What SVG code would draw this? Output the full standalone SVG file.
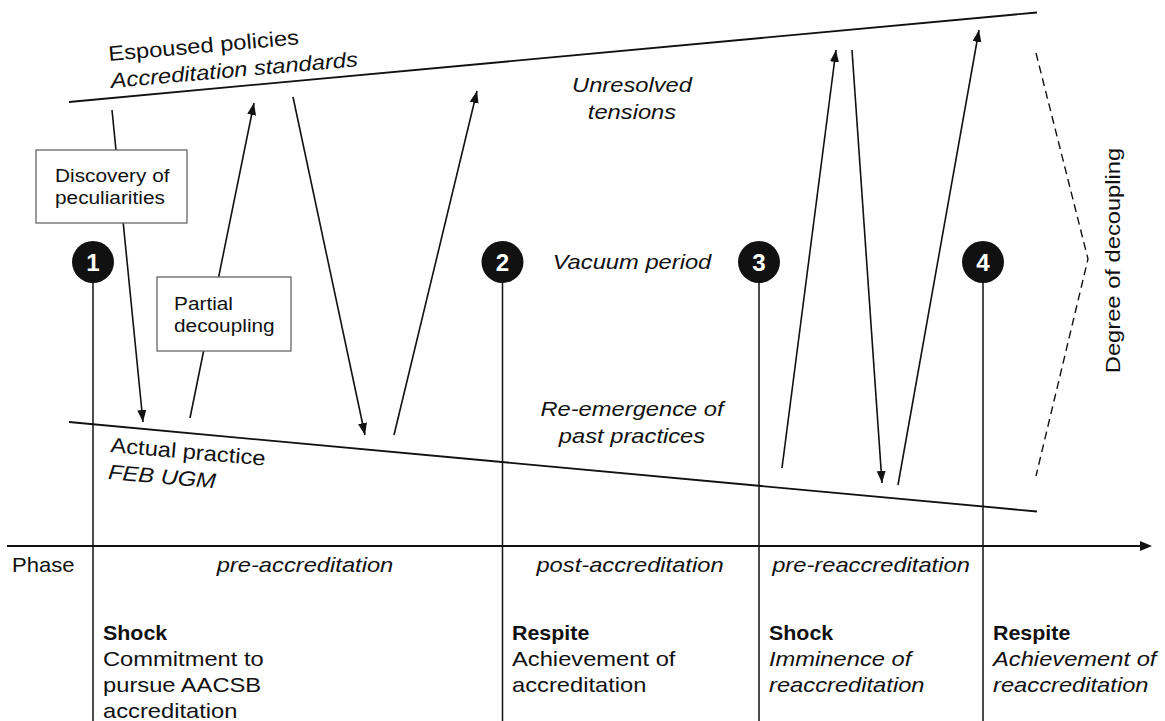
<svg xmlns="http://www.w3.org/2000/svg" width="1165" height="721" viewBox="0 0 1165 721">
<style>
.t{font-family:"Liberation Sans",Arial,sans-serif;font-size:21px;fill:#111}
.bx{font-size:18.5px}
.i{font-style:italic}
.b{font-weight:bold}
.num{font-family:"Liberation Sans",Arial,sans-serif;font-size:23px;font-weight:bold;fill:#fff;text-anchor:middle}
.ln{stroke:#111;stroke-width:1.8;fill:none}
.ar{stroke:#111;stroke-width:1.6;fill:none;marker-end:url(#ah)}
.vl{stroke:#111;stroke-width:1.5;fill:none}
.box{fill:#fff;stroke:#666;stroke-width:1.3}
</style>
<defs>
<marker id="ah" markerUnits="userSpaceOnUse" markerWidth="13" markerHeight="10" refX="12" refY="4.5" orient="auto">
<path d="M0,0 L12,4.5 L0,9 z" fill="#111"/>
</marker>
</defs>
<rect width="1165" height="721" fill="#fff"/>

<g id="connectors">
<line class="ln" x1="69" y1="102" x2="1037" y2="12.5"/>
<line class="ln" x1="69" y1="422" x2="1037" y2="511.5"/>
<line class="ln" x1="7" y1="546" x2="1141" y2="546" stroke-width="2"/>
<path d="M1140,541 L1152,546 L1140,551 z" fill="#111"/>
<line class="vl" x1="93" y1="262" x2="93" y2="721"/>
<line class="vl" x1="502.5" y1="262" x2="502.5" y2="721"/>
<line class="vl" x1="759" y1="262" x2="759" y2="721"/>
<line class="vl" x1="983" y1="262" x2="983" y2="721"/>
<line class="ar" x1="112" y1="110" x2="143" y2="422"/>
<line class="ar" x1="190" y1="418" x2="254" y2="103"/>
<line class="ar" x1="293" y1="97" x2="365" y2="435"/>
<line class="ar" x1="394" y1="435" x2="477" y2="91"/>
<line class="ar" x1="782" y1="468" x2="836" y2="50"/>
<line class="ar" x1="852" y1="50" x2="882" y2="483"/>
<line class="ar" x1="898" y1="485" x2="979" y2="30"/>
<polyline points="1036,53 1088,259 1036,476" fill="none" stroke="#111" stroke-width="1.4" stroke-dasharray="8 5"/>
</g>

<g id="box-discovery">
<rect class="box" x="36" y="150" width="151" height="73"/>
<text class="t bx" transform="translate(55 182) scale(1.125 1)"><tspan x="0" y="0">Discovery of</tspan><tspan x="0" y="22">peculiarities</tspan></text>
</g>
<g id="box-partial">
<rect class="box" x="157" y="277" width="134" height="74"/>
<text class="t bx" transform="translate(174 310) scale(1.125 1)"><tspan x="0" y="0">Partial</tspan><tspan x="0" y="22">decoupling</tspan></text>
</g>

<g id="event-1">
<circle cx="93" cy="262" r="21" fill="#111"/>
<text class="num" transform="translate(93 270.5) scale(1.05 1)">1</text>
</g>
<g id="event-2">
<circle cx="502.5" cy="262" r="21" fill="#111"/>
<text class="num" transform="translate(502.5 270.5) scale(1.05 1)">2</text>
</g>
<g id="event-3">
<circle cx="759" cy="262" r="21" fill="#111"/>
<text class="num" transform="translate(759 270.5) scale(1.05 1)">3</text>
</g>
<g id="event-4">
<circle cx="983" cy="262" r="21" fill="#111"/>
<text class="num" transform="translate(983 270.5) scale(1.05 1)">4</text>
</g>

<g id="label-espoused">
<text class="t" transform="translate(109 61) rotate(-5) scale(1.13 1)"><tspan x="0" y="0">Espoused policies</tspan><tspan class="i" x="0" y="27">Accreditation standards</tspan></text>
</g>
<g id="label-actual">
<text class="t" transform="translate(110 452) rotate(5) scale(1.13 1)"><tspan x="0" y="0">Actual practice</tspan><tspan class="i" x="0" y="27">FEB UGM</tspan></text>
</g>
<g id="label-unresolved">
<text class="t i" text-anchor="middle" transform="translate(632 92) scale(1.13 1)"><tspan x="0" y="0">Unresolved</tspan><tspan x="0" y="27">tensions</tspan></text>
</g>
<g id="label-vacuum">
<text class="t i" text-anchor="middle" transform="translate(632 269) scale(1.13 1)">Vacuum period</text>
</g>
<g id="label-reemergence">
<text class="t i" text-anchor="middle" transform="translate(632 416) scale(1.13 1)"><tspan x="0" y="0">Re-emergence of</tspan><tspan x="0" y="27">past practices</tspan></text>
</g>
<g id="label-degree">
<text class="t" text-anchor="middle" transform="translate(1120 260.5) rotate(-90) scale(1.13 1)">Degree of decoupling</text>
</g>

<g id="phases">
<text class="t" transform="translate(12 572) scale(1.05 1)">Phase</text>
<text class="t i" text-anchor="middle" transform="translate(305 572) scale(1.13 1)">pre-accreditation</text>
<text class="t i" text-anchor="middle" transform="translate(630 572) scale(1.13 1)">post-accreditation</text>
<text class="t i" text-anchor="middle" transform="translate(871 572) scale(1.13 1)">pre-reaccreditation</text>
</g>

<g id="event-desc-1">
<text class="t b" transform="translate(103 640) scale(1.02 1)">Shock</text>
<text class="t" transform="translate(103 666) scale(1.13 1)"><tspan x="0" y="0">Commitment to</tspan><tspan x="0" y="26">pursue AACSB</tspan><tspan x="0" y="52">accreditation</tspan></text>
</g>
<g id="event-desc-2">
<text class="t b" transform="translate(512 640) scale(1.02 1)">Respite</text>
<text class="t" transform="translate(512 666) scale(1.13 1)"><tspan x="0" y="0">Achievement of</tspan><tspan x="0" y="26">accreditation</tspan></text>
</g>
<g id="event-desc-3">
<text class="t b" transform="translate(769 640) scale(1.02 1)">Shock</text>
<text class="t i" transform="translate(769 666) scale(1.13 1)"><tspan x="0" y="0">Imminence of</tspan><tspan x="0" y="26">reaccreditation</tspan></text>
</g>
<g id="event-desc-4">
<text class="t b" transform="translate(993 640) scale(1.02 1)">Respite</text>
<text class="t i" transform="translate(993 666) scale(1.13 1)"><tspan x="0" y="0">Achievement of</tspan><tspan x="0" y="26">reaccreditation</tspan></text>
</g>
</svg>
